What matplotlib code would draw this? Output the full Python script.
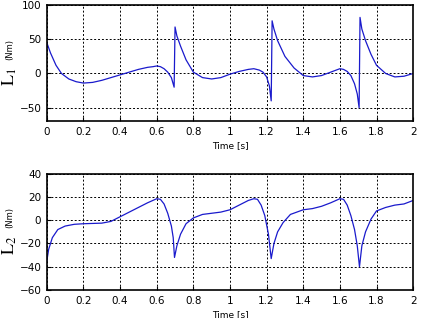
import matplotlib
matplotlib.use("Agg")
import matplotlib.pyplot as plt

plt.rcParams["mathtext.fontset"] = "stix"

# joint torque L1
t1 = [0.0, 0.02, 0.05, 0.08, 0.12, 0.16, 0.2, 0.25, 0.3, 0.35, 0.4, 0.45, 0.5, 0.55, 0.58, 0.6,
      0.62, 0.64, 0.66, 0.68, 0.695, 0.7, 0.71, 0.73, 0.76, 0.8, 0.85, 0.9, 0.95, 1.0, 1.05,
      1.1, 1.13, 1.16, 1.18, 1.2, 1.215, 1.225, 1.23, 1.24, 1.26, 1.3, 1.35, 1.4, 1.45, 1.5,
      1.55, 1.6, 1.62, 1.64, 1.66, 1.68, 1.695, 1.705, 1.71, 1.72, 1.74, 1.77, 1.8, 1.85,
      1.9, 1.95, 2.0]
L1 = [45, 30, 12, 0, -8, -12, -14, -13, -10, -6, -2, 2, 6, 9, 10, 11,
      10, 7, 2, -6, -20, 68, 55, 40, 20, 2, -6, -8, -6, -1, 3,
      6, 7, 5, 2, -5, -18, -40, 77, 65, 48, 25, 8, -3, -5, -3,
      2, 7, 6, 3, -3, -15, -30, -50, 82, 65, 48, 28, 12, 0,
      -5, -4, 0]

# joint torque L2
t2 = [0.0, 0.01, 0.03, 0.06, 0.1, 0.15, 0.2, 0.3, 0.35, 0.4, 0.45, 0.5, 0.55, 0.6, 0.62,
      0.64, 0.66, 0.68, 0.69, 0.697, 0.71, 0.73, 0.76, 0.8, 0.85, 0.95, 1.0, 1.05, 1.1,
      1.13, 1.15, 1.17, 1.19, 1.21, 1.225, 1.24, 1.26, 1.29, 1.33, 1.4, 1.45, 1.5, 1.55,
      1.6, 1.62, 1.64, 1.66, 1.68, 1.695, 1.707, 1.72, 1.74, 1.77, 1.8, 1.85, 1.9, 1.95, 2.0]
L2 = [-35, -25, -15, -8, -5, -3.5, -3, -2.5, -1, 3, 7, 11, 15, 18.5, 18,
      14, 6, -5, -15, -32, -22, -12, -3, 2, 5, 7, 9, 13, 17,
      18.5, 18, 13, 4, -12, -33, -20, -10, -2, 5, 9, 10, 12, 15,
      18.5, 18, 13, 4, -8, -22, -40, -22, -10, 1, 8, 11, 13, 14, 17]

fig, (ax1, ax2) = plt.subplots(2, 1, figsize=(4.22, 3.18), dpi=100)
fig.subplots_adjust(left=0.111, right=0.979, top=0.984, bottom=0.088, hspace=0.45)

for ax, t, L, lim, yt, name in [
    (ax1, t1, L1, (-70, 100), [-50, 0, 50, 100], "1"),
    (ax2, t2, L2, (-60, 40), [-60, -40, -20, 0, 20, 40], "2"),
]:
    ax.plot(t, L, color="#1a1acc", lw=0.9)
    ax.set_xlim(0, 2)
    ax.set_ylim(*lim)
    ax.set_yticks(yt)
    ax.set_xticks([0, 0.2, 0.4, 0.6, 0.8, 1, 1.2, 1.4, 1.6, 1.8, 2])
    ax.set_xticklabels(["0", "0.2", "0.4", "0.6", "0.8", "1", "1.2", "1.4", "1.6", "1.8", "2"])
    ax.grid(True, color="black", linestyle=(0, (2, 2)), linewidth=0.7)
    ax.tick_params(labelsize=7.5, direction="in", length=3, pad=4)
    for s in ax.spines.values():
        s.set_linewidth(1.2)
    ax.set_xlabel("Time [s]", fontsize=6.5, labelpad=3)
    ax.text(-0.1, 0.38, r"$\mathrm{L}_{%s}$" % name, transform=ax.transAxes,
            rotation=90, fontsize=13, va="center", ha="center")
    ax.text(-0.1, 0.62, "(Nm)", transform=ax.transAxes,
            rotation=90, fontsize=6, va="center", ha="center")

fig.savefig("out.png")
